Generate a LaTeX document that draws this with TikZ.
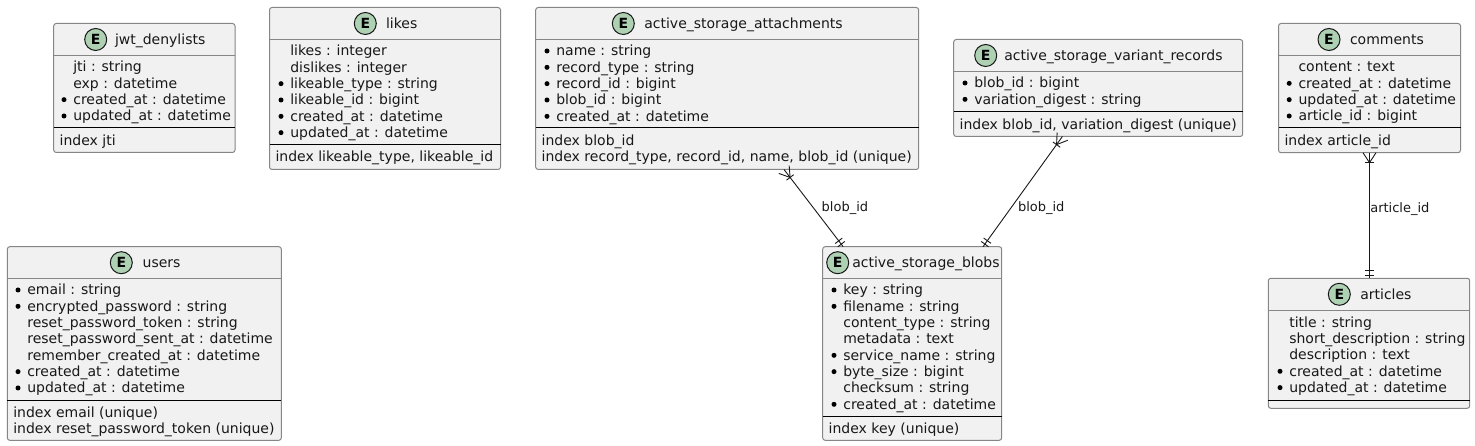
\documentclass[tikz,border=0pt]{standalone}
\usepackage{fontspec}
\setmainfont{DejaVu Sans}
\usetikzlibrary{calc}
\definecolor{boxfill}{HTML}{F1F1F1}
\definecolor{boxline}{HTML}{868686}
\definecolor{inkc}{HTML}{181818}
\definecolor{iconfill}{HTML}{ADD1B2}
\tikzset{
  box/.style={draw=boxline,fill=boxfill,line width=1pt,rounded corners=2.5pt,inner sep=0pt,outer sep=0pt},
  headline/.style={draw=boxline,line width=1pt},
  sepline/.style={draw=black,line width=1pt},
  icon/.style={circle,draw=inkc,fill=iconfill,line width=1pt,minimum size=22pt,inner sep=0pt,font=\fontsize{14}{16}\selectfont\bfseries},
  txt/.style={anchor=base west,inner sep=0pt,outer sep=0pt,text=inkc,font=\fontsize{14}{16}\selectfont},
  lbl/.style={anchor=base west,inner sep=0pt,outer sep=0pt,text=inkc,font=\fontsize{13}{15}\selectfont},
  bulletdot/.style={circle,fill=black,minimum size=5pt,inner sep=0pt},
  link/.style={draw=inkc,line width=0.9pt}
}
% id, left, top, right, bottom, icon centre x, title x, title
\newcommand\entity[8]{%
  \node[box,minimum width={(#4-#2)*1pt},minimum height={(#5-#3)*1pt}] (#1) at ({(#2+#4)/2},{(#3+#5)/2}) {};
  \draw[headline] (#1.west |- 0,{#3+32}) -- (#1.east |- 0,{#3+32});
  \node[icon] (#1-icon) at (#6,{#3+16}) {E};
  \node[txt] (#1-title) at (#7,{#3+21}) {#8};
}
% id, text x, first baseline, list of dot/text
\newcommand\fields[4]{%
  \foreach \d/\t [count=\i] in {#4}{
    \node[txt] (#1-f\i) at (#2,{#3+(\i-1)*16.33}) {\t};
    \ifnum\d=1 \node[bulletdot] (#1-b\i) at ({#2-9.3},{#3+(\i-1)*16.33-5}) {};\fi
  }
}
% id, separator y
\newcommand\sepat[2]{\draw[sepline] (#1.west |- 0,#2) -- (#1.east |- 0,#2);}
% id, separator y, list of index lines
\newcommand\indexes[3]{%
  \sepat{#1}{#2}
  \path (#1.west) ++(6,0) coordinate (#1-xo);
  \foreach \t [count=\i] in {#3}{
    \node[txt] (#1-x\i) at (#1-xo |- 0,{#2+17.3+(\i-1)*16.33}) {\t};
  }
}
% crow's foot: end on the many side, other end
\newcommand\crowfoot[2]{%
  \coordinate (apex) at ($(#1)!10pt!(#2)$);
  \draw[link] ($(#1)!6.5pt!90:(#2)$) -- (apex) -- ($(#1)!6.5pt!-90:(#2)$);
  \draw[link] ($(apex)!4.5pt!90:(#2)$) -- ($(apex)!4.5pt!-90:(#2)$);
}
% double bar: end on the one side, other end
\newcommand\onebar[2]{%
  \foreach \s in {3.2pt,7.4pt}{
    \coordinate (bar) at ($(#1)!\s!(#2)$);
    \draw[link] ($(bar)!4.5pt!90:(#2)$) -- ($(bar)!4.5pt!-90:(#2)$);
  }
}
\begin{document}
\begin{tikzpicture}[x=1pt,y=-1pt]
\useasboundingbox (0,0) rectangle (1475,446);

\entity{jwt}{53.7}{23.5}{235}{152.5}{95.7}{115}{jwt\_denylists}
\fields{jwt}{73.3}{72}{0/{jti : string},0/{exp : datetime},1/{created\_at : datetime},1/{updated\_at : datetime}}
\indexes{jwt}{128}{index jti}

\entity{likes}{269.5}{7.5}{500.5}{169.5}{365.3}{386}{likes}
\fields{likes}{290.3}{56}{0/{likes : integer},0/{dislikes : integer},1/{likeable\_type : string},1/{likeable\_id : bigint},1/{created\_at : datetime},1/{updated\_at : datetime}}
\indexes{likes}{144.5}{{index likeable\_type, likeable\_id}}

\entity{att}{535.7}{7.5}{918.7}{169.5}{623.3}{644.3}{active\_storage\_attachments}
\fields{att}{556.3}{56}{1/{name : string},1/{record\_type : string},1/{record\_id : bigint},1/{blob\_id : bigint},1/{created\_at : datetime}}
\indexes{att}{128}{{index blob\_id},{index record\_type, record\_id, name, blob\_id (unique)}}

\entity{var}{953.7}{39.5}{1242.7}{136.5}{985.7}{1004.3}{active\_storage\_variant\_records}
\fields{var}{974.3}{88}{1/{blob\_id : bigint},1/{variation\_digest : string}}
\indexes{var}{112}{{index blob\_id, variation\_digest (unique)}}

\entity{com}{1278.5}{23.5}{1460.5}{152.7}{1329}{1350}{comments}
\fields{com}{1298.5}{72}{0/{content : text},1/{created\_at : datetime},1/{updated\_at : datetime},1/{article\_id : bigint}}
\indexes{com}{128}{{index article\_id}}

\entity{art}{1268.3}{278.3}{1469.7}{408.3}{1339.3}{1360.3}{articles}
\fields{art}{1289.3}{327.3}{0/{title : string},0/{short\_description : string},0/{description : text},1/{created\_at : datetime},1/{updated\_at : datetime}}
\sepat{art}{400.3}

\entity{blobs}{822.7}{246.7}{1001.7}{440.3}{837.7}{852.3}{active\_storage\_blobs}
\fields{blobs}{843.3}{295}{1/{key : string},1/{filename : string},0/{content\_type : string},0/{metadata : text},1/{service\_name : string},1/{byte\_size : bigint},0/{checksum : string},1/{created\_at : datetime}}
\indexes{blobs}{416.3}{{index key (unique)}}

\entity{users}{7.3}{246.7}{281.3}{440.3}{121.3}{142.7}{users}
\fields{users}{27.3}{295}{1/{email : string},1/{encrypted\_password : string},0/{reset\_password\_token : string},0/{reset\_password\_sent\_at : datetime},0/{remember\_created\_at : datetime},1/{created\_at : datetime},1/{updated\_at : datetime}}
\indexes{users}{400.3}{{index email (unique)},{index reset\_password\_token (unique)}}

% connectors
\coordinate (c1a) at ([xshift=56.8pt]att.south);
\coordinate (c1b) at ([xshift=-69pt]blobs.north);
\draw[link] (c1a) -- (c1b);
\crowfoot{c1a}{c1b}
\onebar{c1b}{c1a}
\node[lbl] (l1) at (821.7,212) {blob\_id};

\coordinate (c2a) at ([xshift=-35.8pt]var.south);
\coordinate (c2b) at ([xshift=70.8pt]blobs.north);
\draw[link] (c2a) -- (c2b);
\crowfoot{c2a}{c2b}
\onebar{c2b}{c2a}
\node[lbl] (l2) at (1018,212) {blob\_id};

\coordinate (c3a) at (com.south);
\coordinate (c3c) at (c3a |- art.north);
\draw[link] (c3a) -- (c3c);
\crowfoot{c3a}{c3c}
\onebar{c3c}{c3a}
\node[lbl] (l3) at (1370.3,212.3) {article\_id};
\end{tikzpicture}
\end{document}
